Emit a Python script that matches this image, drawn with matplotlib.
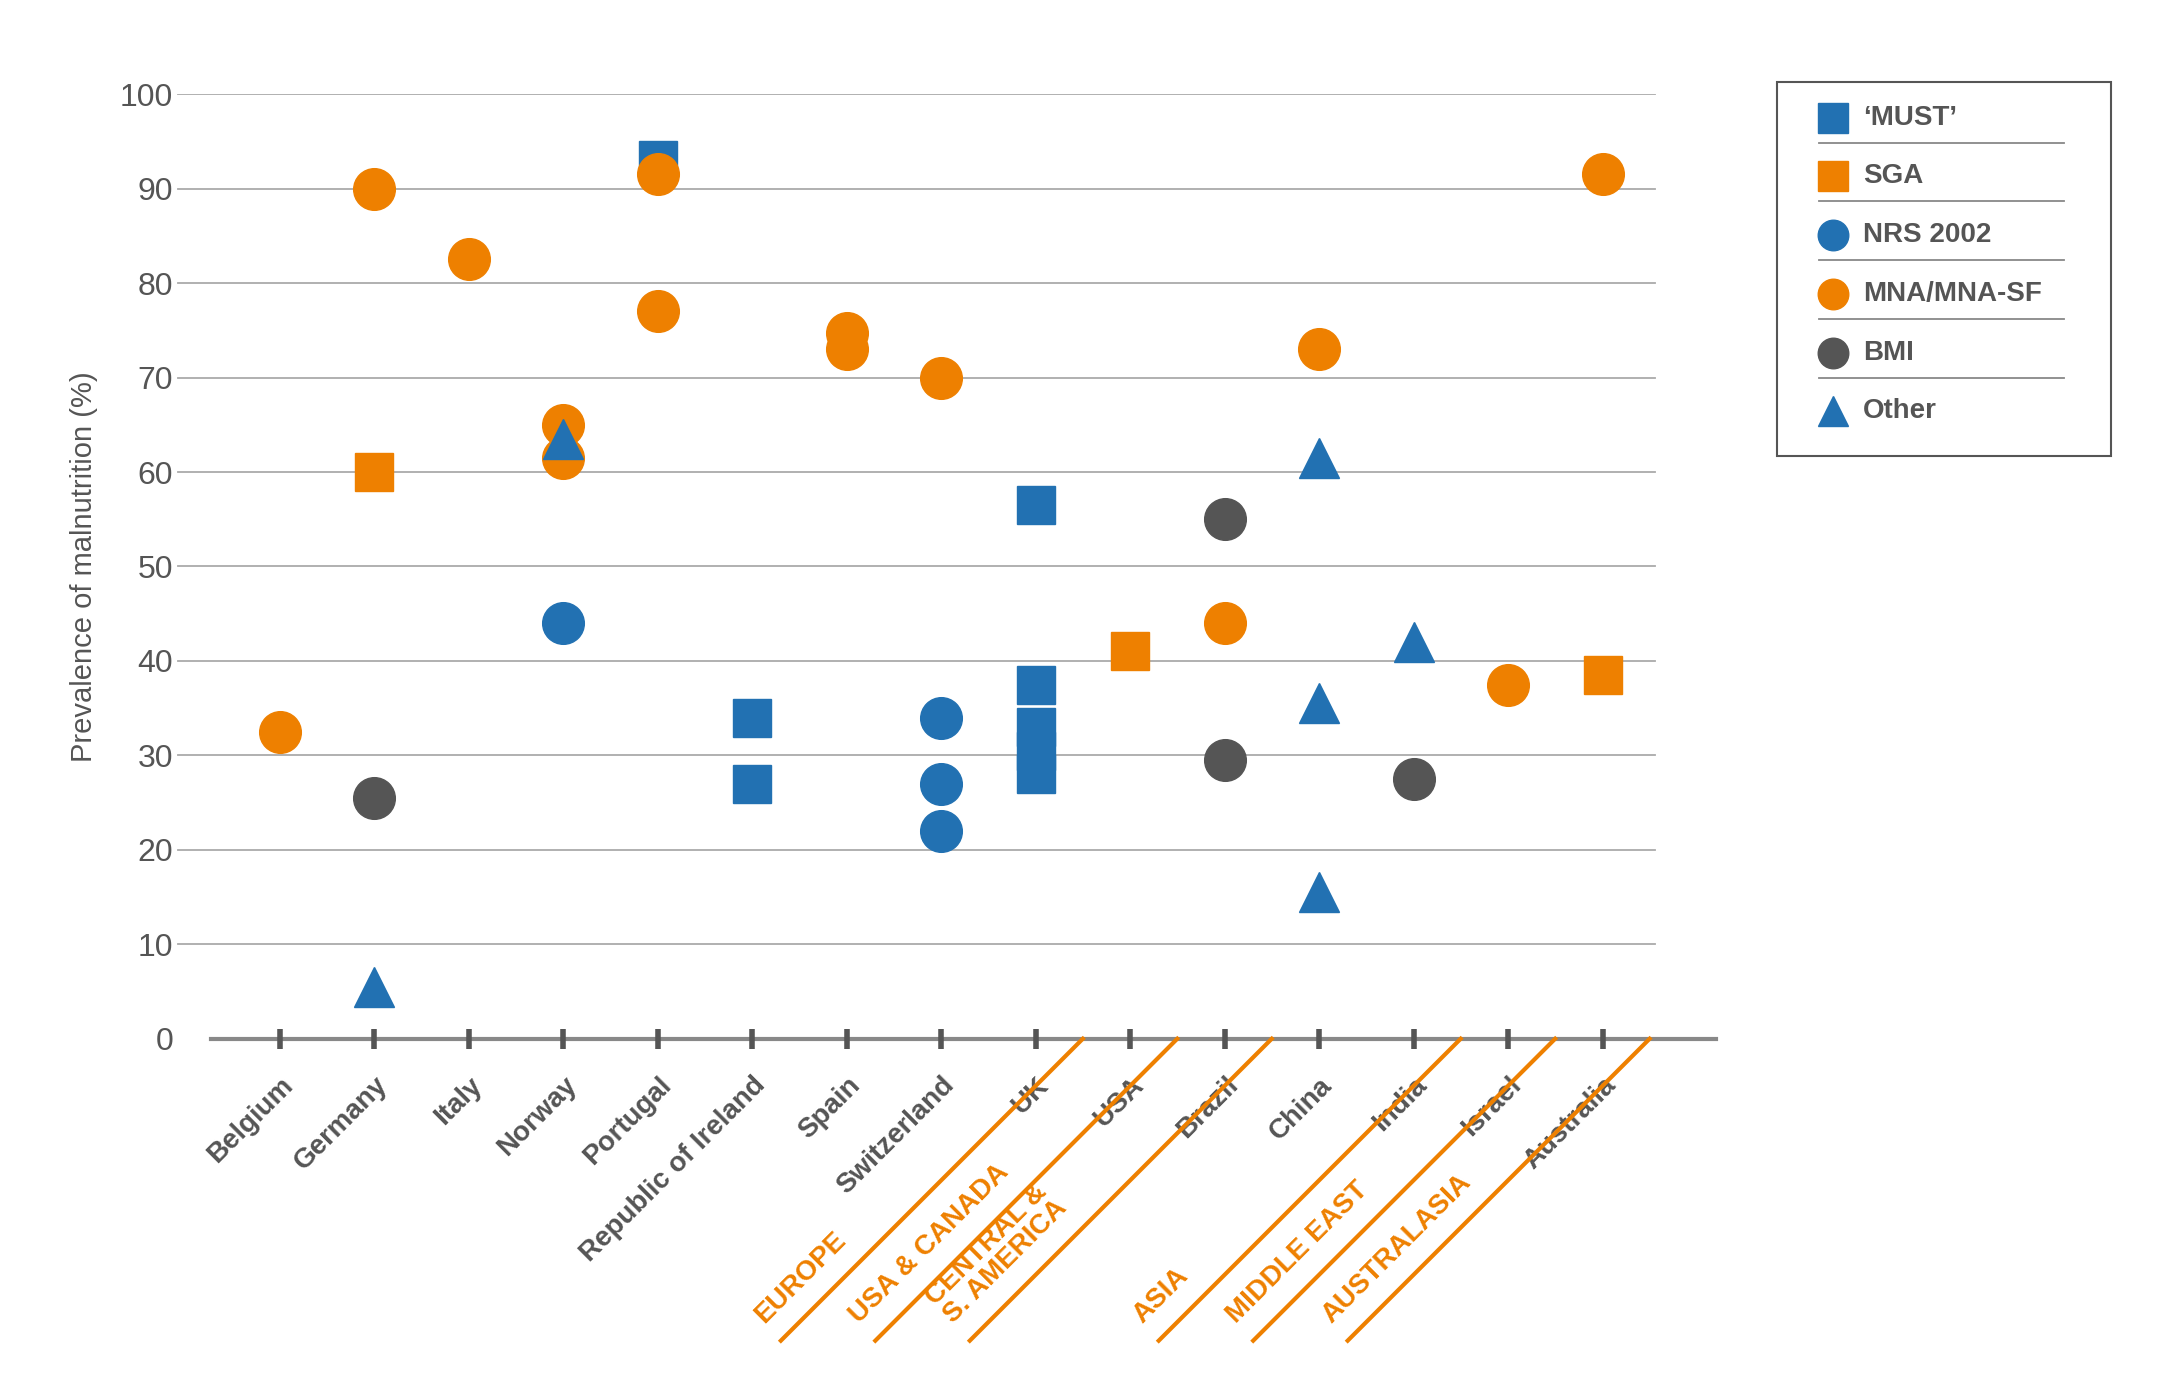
import matplotlib.pyplot as plt
from matplotlib.lines import Line2D

plt.rcParams['font.family'] = ['Liberation Sans Narrow', 'Liberation Sans', 'DejaVu Sans']

countries = ["Belgium", "Germany", "Italy", "Norway", "Portugal", "Republic of Ireland",
             "Spain", "Switzerland", "UK", "USA", "Brazil", "China", "India", "Israel", "Australia"]

# (country index, value) per tool
must_x = [4, 5, 5, 8, 8, 8, 8, 8]
must_y = [93, 34, 27, 56.5, 37.5, 33, 30.5, 28]
sga_x = [1, 9, 14]
sga_y = [60, 41, 38.5]
nrs_x = [3, 7, 7, 7]
nrs_y = [44, 34, 27, 22]
mna_x = [0, 1, 2, 3, 3, 4, 4, 6, 6, 7, 10, 11, 13, 14]
mna_y = [32.5, 90, 82.5, 65, 61.5, 91.5, 77, 74.7, 73, 70, 44, 73, 37.5, 91.5]
bmi_x = [1, 10, 10, 12]
bmi_y = [25.5, 55, 29.5, 27.5]
oth_x = [1, 3, 11, 11, 11, 12]
oth_y = [5.5, 63.5, 61.5, 35.5, 15.5, 42]

regions = ["EUROPE", "USA & CANADA", "CENTRAL &\nS. AMERICA", "ASIA", "MIDDLE EAST", "AUSTRALASIA"]
region_breaks = [8.5, 9.5, 10.5, 12.5, 13.5, 14.5]

blue = "#2271b2"
orange = "#ee8000"
dark = "#555555"
W, H = 1568.0, 1000.0


def fx(x):
    return x / W


def fy(y):
    return 1 - y / H


fig = plt.figure(figsize=(21.72, 13.85), dpi=100)
ax = fig.add_axes([fx(127), fy(750), fx(1239) - fx(127), fy(68) - fy(750)])
ax.set_xlim(-1.1, 15.2)
ax.set_ylim(0, 100)
for s in ax.spines.values():
    s.set_visible(False)

for v in range(10, 101, 10):
    ax.plot([-1.08, 14.55], [v, v], color="#aaaaaa", lw=1.3, zorder=0)
ax.plot([-0.73, 15.2], [0, 0], color="#888888", lw=3, clip_on=False, zorder=1)

ms = 30
ax.plot(must_x, must_y, "s", color=blue, ms=28, ls="none", clip_on=False, zorder=3)
ax.plot(sga_x, sga_y, "s", color=orange, ms=28, ls="none", clip_on=False, zorder=3)
ax.plot(nrs_x, nrs_y, "o", color=blue, ms=ms, ls="none", clip_on=False, zorder=3)
ax.plot(mna_x, mna_y, "o", color=orange, ms=ms, ls="none", clip_on=False, zorder=3)
ax.plot(bmi_x, bmi_y, "o", color=dark, ms=ms, ls="none", clip_on=False, zorder=3)
ax.plot(oth_x, oth_y, "^", color=blue, ms=29, ls="none", clip_on=False, zorder=3)

ax.set_yticks(range(0, 101, 10))
ax.tick_params(axis="y", length=0, labelsize=23, labelcolor=dark, pad=2)
ax.set_xticks(range(len(countries)))
ax.set_xticklabels(countries, rotation=45, ha="right", rotation_mode="anchor",
                   fontsize=20, fontweight="bold", color=dark)
ax.tick_params(axis="x", direction="inout", length=14, width=4, color=dark, pad=17)
ax.set_ylabel("Prevalence of malnutrition (%)", fontsize=21, color=dark, labelpad=16)

# region separators and labels
for b, name in zip(region_breaks, regions):
    x0 = fx(202 + 68.2 * b)
    x1 = fx(202 + 68.2 * b - 218)
    fig.add_artist(Line2D([x0, x1], [fy(750), fy(968)], color=orange, lw=3,
                          transform=fig.transFigure))
    fig.text(x1 - fx(9), fy(968) + 9 / H, name, rotation=45, rotation_mode="anchor",
             ha="left", va="bottom", fontsize=20, fontweight="bold", color=orange,
             linespacing=0.95)

# legend box
fig.add_artist(plt.Rectangle((fx(1283), fy(329)), fx(241), 270 / H, fill=False,
                             ec="#555555", lw=1.5, transform=fig.transFigure))
leg = [("s", blue, "\u2018MUST\u2019"), ("s", orange, "SGA"), ("o", blue, "NRS 2002"),
       ("o", orange, "MNA/MNA-SF"), ("o", dark, "BMI"), ("^", blue, "Other")]
for i, (m, c, lab) in enumerate(leg):
    y = 85 + 42.4 * i
    fig.add_artist(Line2D([fx(1323)], [fy(y)], marker=m, color=c, ms=22, ls="none",
                          transform=fig.transFigure))
    fig.text(fx(1345), fy(y), lab, ha="left", va="center", fontsize=20,
             fontweight="bold", color=dark)
    if i < 5:
        fig.add_artist(Line2D([fx(1313), fx(1490)], [fy(y + 18), fy(y + 18)],
                              color="#888888", lw=1.3, transform=fig.transFigure))

fig.savefig("out.png", dpi=100, facecolor="white")
